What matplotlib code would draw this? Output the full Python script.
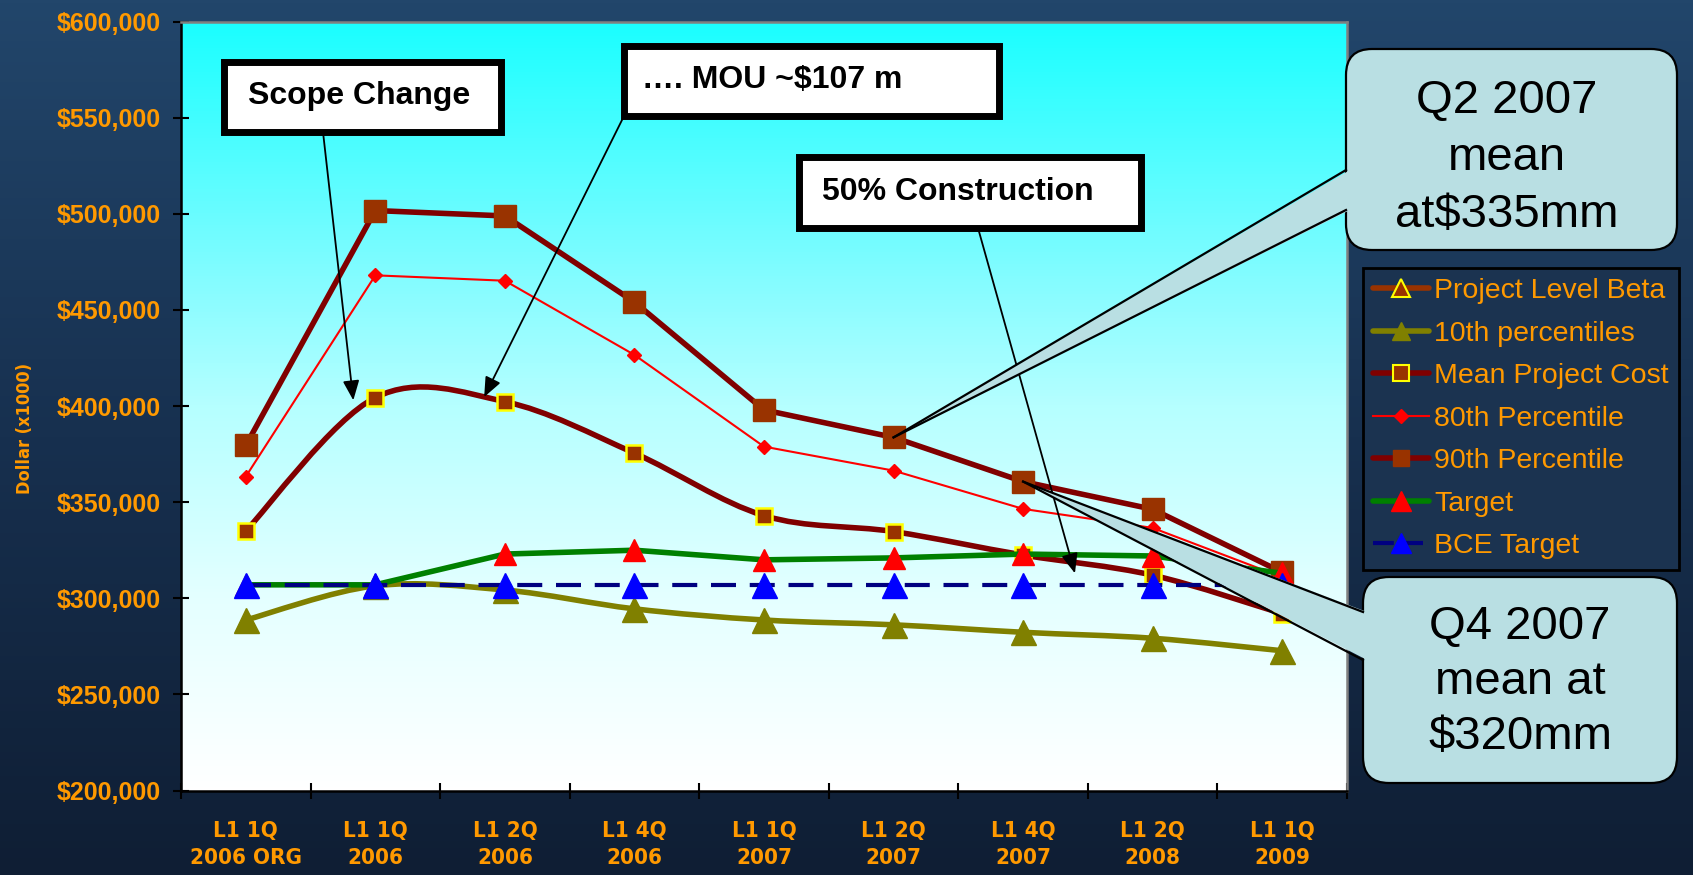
import numpy as np
import matplotlib
matplotlib.use("Agg")
import matplotlib.pyplot as plt
from matplotlib import font_manager as fm
from matplotlib.colors import LinearSegmentedColormap
from matplotlib.lines import Line2D
from matplotlib.path import Path
from matplotlib.patches import PathPatch, Rectangle, FancyBboxPatch, Polygon
from matplotlib.ticker import FuncFormatter, FixedLocator

# ---- data (dollars x1000) ----
categories = ["L1 1Q\n2006 ORG", "L1 1Q\n2006", "L1 2Q\n2006", "L1 4Q\n2006", "L1 1Q\n2007",
              "L1 2Q\n2007", "L1 4Q\n2007", "L1 2Q\n2008", "L1 1Q\n2009"]
pct90 = [379500, 501700, 498900, 454100, 398000, 383700, 360700, 346300, 313500]
pct80 = [363300, 468000, 465200, 426600, 378900, 366400, 346500, 336600, 311000]
mean_cost = [335000, 404400, 402300, 375500, 343000, 334700, 322500, 312000, 292000]
pct10 = [288700, 306500, 304300, 294500, 288700, 286200, 282300, 279200, 272700]
target = [307000, 307000, 323000, 325000, 320000, 321000, 323000, 322000, 313000]
bce_target = [307000] * 9

labels = ["Project Level Beta", "10th percentiles", "Mean Project Cost", "80th Percentile",
          "90th Percentile", "Target", "BCE Target"]

ORANGE = "#ff9900"
W, H = 1693, 875

# a condensed bold face for the category labels, if one is installed
_fonts = fm.fontManager.ttflist
if any(f.name == "Liberation Sans Narrow" for f in _fonts):
    narrow = dict(family="Liberation Sans Narrow", size=18, ylab=16)
elif any(f.name == "DejaVu Sans" and f.stretch == "condensed" for f in _fonts):
    narrow = dict(family="DejaVu Sans", stretch="condensed", size=16, ylab=13)
else:
    narrow = dict(family="Liberation Sans", size=15.5, ylab=13.5)

fig = plt.figure(figsize=(W / 100, H / 100), dpi=100)


def inch(x, y):
    # image pixel (top-left origin) -> inches for fig.dpi_scale_trans
    return (x / 100, (H - y) / 100)


# slide background gradient
bg = fig.add_axes([0, 0, 1, 1], zorder=-5)
grad = np.linspace(0, 1, 256).reshape(-1, 1)
bg.imshow(grad, aspect="auto", extent=[0, 1, 0, 1],
          cmap=LinearSegmentedColormap.from_list("bg", ["#22466b", "#17304f", "#0f1e34"]))
bg.axis("off")

ax = fig.add_axes([181 / W, (H - 790.5) / H, 1166 / W, (790.5 - 21.6) / H])
ax.set_xlim(-0.5, 8.5)
ax.set_ylim(200000, 600000)
ax.imshow(grad, aspect="auto", extent=[-0.5, 8.5, 200000, 600000], zorder=0,
          cmap=LinearSegmentedColormap.from_list(
              "plot", [(0, "#1affff"), (0.33, "#82fcff"), (0.5, "#b5ffff"),
                       (0.75, "#e4ffff"), (1, "#ffffff")]))

x = np.arange(len(categories))


def smooth_path(xs, ys):
    # excel-style smoothed line as cubic bezier segments through the points
    pts = np.column_stack([xs, ys]).astype(float)
    n = len(pts)
    verts = [pts[0]]
    codes = [Path.MOVETO]
    for i in range(n - 1):
        p0 = pts[max(i - 1, 0)]
        p1 = pts[i]
        p2 = pts[i + 1]
        p3 = pts[min(i + 2, n - 1)]
        verts += [p1 + (p2 - p0) / 6, p2 - (p3 - p1) / 6, p2]
        codes += [Path.CURVE4] * 3
    return Path(verts, codes)


# 10th percentiles (smoothed)
ax.add_patch(PathPatch(smooth_path(x, pct10), fc="none", ec="#808000", lw=4,
                       capstyle="round", joinstyle="round", zorder=3))
ax.plot(x, pct10, ls="none", marker="^", ms=18, mfc="#808000", mec="#808000", zorder=3.1)

# mean project cost (smoothed)
ax.add_patch(PathPatch(smooth_path(x, mean_cost), fc="none", ec="#800000", lw=4,
                       capstyle="round", joinstyle="round", zorder=4))
ax.plot(x, mean_cost, ls="none", marker="s", ms=12, mfc="#993300", mec="#ffff00",
        mew=1.8, zorder=4.1)

# 80th percentile
ax.plot(x, pct80, color="#ff0000", lw=1.5, marker="D", ms=7, mfc="#ff0000", mec="#ff0000", zorder=5)

# 90th percentile
ax.plot(x, pct90, color="#800000", lw=4, marker="s", ms=16, mfc="#993300", mec="#993300",
        solid_joinstyle="round", solid_capstyle="round", zorder=6)

# target
ax.plot(x, target, color="#008000", lw=4, marker="^", ms=16, mfc="#ff0000", mec="#ff0000",
        solid_capstyle="round", zorder=7)

# BCE target
ax.plot(x, bce_target, color="#000080", lw=3, ls=(0, (6, 3.3)), marker="^", ms=18,
        mfc="#0000ff", mec="#0000ff", zorder=8)

# axes styling
ax.xaxis.set_major_locator(FixedLocator(np.arange(-0.5, 9, 1)))
ax.xaxis.set_minor_locator(FixedLocator(x))
ax.set_xticklabels([], minor=False)
ax.set_xticklabels(categories, minor=True)
ax.tick_params(axis="x", which="major", direction="inout", length=12, width=1.5, color="black")
ax.tick_params(axis="x", which="minor", length=0, pad=22, labelcolor=ORANGE)
for t in ax.get_xticklabels(minor=True):
    t.set_fontfamily(narrow["family"])
    if "stretch" in narrow:
        t.set_fontstretch(narrow["stretch"])
    t.set_fontweight("bold")
    t.set_fontsize(narrow["size"])
    t.set_linespacing(1.45)

ax.set_yticks(np.arange(200000, 600001, 50000))
ax.yaxis.set_major_formatter(FuncFormatter(lambda v, p: "${:,.0f}".format(v)))
ax.tick_params(axis="y", direction="inout", length=11, width=1.5, color="black",
               pad=9, labelcolor=ORANGE)
for t in ax.get_yticklabels():
    t.set_fontfamily("Liberation Sans")
    t.set_fontweight("bold")
    t.set_fontsize(18)

for s in ["left", "bottom"]:
    ax.spines[s].set_color("black")
    ax.spines[s].set_linewidth(1.8)
for s in ["top", "right"]:
    ax.spines[s].set_color("#808080")
    ax.spines[s].set_linewidth(1.8)

fig.text(25 / W, 1 - 428 / H, "Dollar (x1000)", rotation=90, ha="center", va="center",
         color=ORANGE, fontsize=narrow["ylab"], fontweight="bold", family=narrow["family"],
         fontstretch=narrow.get("stretch", "normal"))

# legend
handles = [
    Line2D([], [], color="#993300", lw=4, marker="^", ms=13, mfc="#993300", mec="#ffff00",
           mew=1.5, solid_capstyle="round"),
    Line2D([], [], color="#808000", lw=4, marker="^", ms=13, mfc="#808000", mec="#808000",
           solid_capstyle="round"),
    Line2D([], [], color="#800000", lw=4, marker="s", ms=11, mfc="#993300", mec="#ffff00",
           mew=1.5, solid_capstyle="round"),
    Line2D([], [], color="#ff0000", lw=1.5, marker="D", ms=7, mfc="#ff0000", mec="#ff0000"),
    Line2D([], [], color="#800000", lw=4, marker="s", ms=12, mfc="#993300", mec="#993300",
           solid_capstyle="round"),
    Line2D([], [], color="#008000", lw=4, marker="^", ms=14, mfc="#ff0000", mec="#ff0000",
           solid_capstyle="round"),
    Line2D([], [], color="#000080", lw=3, ls=(0, (5, 2)), marker="^", ms=14, mfc="#0000ff",
           mec="#0000ff"),
]
leg = fig.legend(handles, labels, loc="upper left", bbox_to_anchor=(1363 / W, 1 - 268 / H),
                 frameon=True, fancybox=False, facecolor="#1b3350", edgecolor="black",
                 framealpha=1, prop={"family": "Liberation Sans", "size": 20.5},
                 labelcolor=ORANGE, handlelength=1.95, handletextpad=0.2,
                 labelspacing=0.58, borderpad=0.36, borderaxespad=0)
leg.get_frame().set_linewidth(2)

# white note boxes with arrows
notes = [
    # text, box (x0, y0, x1, y1) in px, text left/center-y, arrow start px, arrow tip (data)
    ("Scope Change", (224, 62, 501, 132), (248, 96), (323, 132), (0.83, 403000)),
    ("\u2026. MOU ~$107 m", (624, 46, 999, 116), (642, 80), (625, 114), (1.84, 404700)),
    ("50% Construction", (799, 157, 1141, 228), (822, 192), (978, 228), (6.40, 313000)),
]
for txt, (x0, y0, x1, y1), (tx, ty), start, tip in notes:
    fig.add_artist(Rectangle(inch(x0, y1), (x1 - x0) / 100, (y1 - y0) / 100,
                             transform=fig.dpi_scale_trans, fc="white", ec="black", lw=5,
                             zorder=2))
    fig.text(*inch(tx, ty), txt, transform=fig.dpi_scale_trans, ha="left", va="center",
             fontsize=23, fontweight="bold", family="Liberation Sans", color="black", zorder=3)
    ax.annotate("", xy=tip, xycoords="data", xytext=inch(*start),
                textcoords=fig.dpi_scale_trans, annotation_clip=False,
                arrowprops=dict(arrowstyle="-|>,head_length=0.6,head_width=0.25",
                                color="black", lw=1.3, shrinkA=0, shrinkB=0,
                                mutation_scale=20), zorder=9)

# rounded callouts
callouts = [
    ("Q2 2007\nmean\nat$335mm", (1346, 49, 1677, 250), (1507, 158), 1.38, (170, 210),
     (5, pct90[5])),
    ("Q4 2007\nmean at\n$320mm", (1363, 577, 1677, 783), (1520, 682), 1.32, (612, 660),
     (6, pct90[6])),
]
for txt, (x0, y0, x1, y1), (tx, ty), lsp, (b1, b2), tip in callouts:
    fig.add_artist(FancyBboxPatch(inch(x0, y1), (x1 - x0) / 100, (y1 - y0) / 100,
                                  boxstyle="round,pad=0,rounding_size=0.26",
                                  transform=fig.dpi_scale_trans, fc="#b9dfe3", ec="black",
                                  lw=1.6, zorder=4))
    tip_in = ax.transData.transform(tip) / fig.dpi
    p1 = np.array(inch(x0 + 4, b1))
    p2 = np.array(inch(x0 + 4, b2))
    fig.add_artist(Polygon([tip_in, p1, p2], closed=True, transform=fig.dpi_scale_trans,
                           fc="#b9dfe3", ec="none", zorder=4.1))
    for p in (p1, p2):
        fig.add_artist(Line2D([tip_in[0], p[0] - 0.04], [tip_in[1], p[1]],
                              transform=fig.dpi_scale_trans, color="black", lw=1.6,
                              zorder=4.2))
    fig.text(*inch(tx, ty), txt, transform=fig.dpi_scale_trans, ha="center", va="center",
             fontsize=34, family="Liberation Sans", color="black", linespacing=lsp, zorder=5)

fig.savefig("out.png", dpi=100)
